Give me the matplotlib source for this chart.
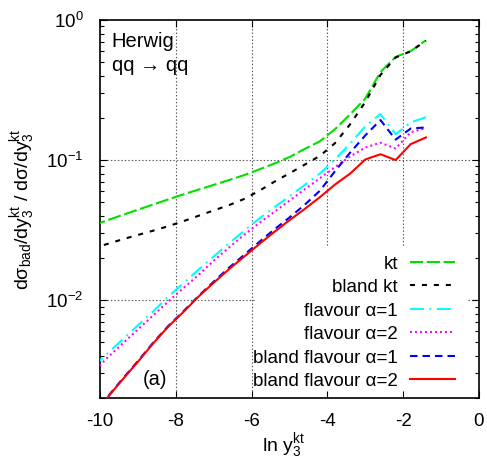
import matplotlib
matplotlib.use("Agg")
import matplotlib.pyplot as plt
from matplotlib.patches import Rectangle
from matplotlib.ticker import LogLocator, FixedLocator

plt.rcParams['font.family'] = ['Liberation Sans', 'DejaVu Sans']
plt.rcParams['mathtext.fontset'] = 'custom'
plt.rcParams['mathtext.rm'] = 'Liberation Sans'
plt.rcParams['mathtext.it'] = 'Liberation Sans'
plt.rcParams['mathtext.default'] = 'regular'
plt.rcParams['axes.unicode_minus'] = False
plt.rcParams['lines.scale_dashes'] = False

# ---- data ----
lny = [-10.2, -9.8, -9.4, -9.0, -8.6, -8.2, -7.8, -7.4, -7.0, -6.6, -6.2, -5.8,
       -5.4, -5.0, -4.6, -4.2, -3.8, -3.4, -3.0, -2.6, -2.2, -1.8, -1.4]

kt = [0.0341, 0.0372, 0.0406, 0.0442, 0.0481, 0.0524, 0.0569, 0.0615, 0.0665,
      0.0719, 0.0780, 0.0857, 0.0944, 0.105, 0.120, 0.136, 0.166, 0.212,
      0.275, 0.425, 0.545, 0.600, 0.716]
bland_kt = [0.0234, 0.0252, 0.0272, 0.0292, 0.0313, 0.0337, 0.0366, 0.0400,
            0.0437, 0.0476, 0.0527, 0.0603, 0.0700, 0.0804, 0.0927, 0.107,
            0.132, 0.180, 0.260, 0.405, 0.540, 0.598, 0.711]
flav1 = [0.00331, 0.00417, 0.00525, 0.00660, 0.00830, 0.0106, 0.0132, 0.0165,
         0.0205, 0.0254, 0.0312, 0.0382, 0.0460, 0.0552, 0.0664, 0.0800,
         0.101, 0.131, 0.174, 0.213, 0.153, 0.186, 0.202]
flav2 = [0.00302, 0.00389, 0.00490, 0.00617, 0.00776, 0.00977, 0.0122, 0.0151,
         0.0191, 0.0237, 0.0292, 0.0355, 0.0427, 0.0513, 0.0617, 0.0741,
         0.0890, 0.106, 0.123, 0.133, 0.121, 0.158, 0.169]
bland_flav1 = [0.00151, 0.00204, 0.00275, 0.00367, 0.00495, 0.00653, 0.00832,
               0.0107, 0.01355, 0.0170, 0.0210, 0.0260, 0.0320, 0.0389, 0.0479,
               0.0603, 0.0832, 0.113, 0.150, 0.193, 0.140, 0.168, 0.171]
bland_flav2 = [0.00150, 0.00202, 0.00272, 0.00363, 0.00490, 0.00646, 0.00822,
               0.0106, 0.0133, 0.0166, 0.0204, 0.0251, 0.0307, 0.0372, 0.0447,
               0.0543, 0.0668, 0.0800, 0.101, 0.110, 0.100, 0.130, 0.145]

labels = ['kt', 'bland kt', 'flavour α=1', 'flavour α=2',
          'bland flavour α=1', 'bland flavour α=2']
xticks = [-10, -8, -6, -4, -2, 0]

# ---- figure ----
fig = plt.figure(figsize=(4.87, 4.61), dpi=100)
ax = fig.add_axes([100/487, 1-398/461, 379/487, 378/461])

series = [kt, bland_kt, flav1, flav2, bland_flav1, bland_flav2]
styles = [
    dict(color='#00e000', dashes=(9.5, 2.6)),
    dict(color='black', dashes=(3.6, 5.0)),
    dict(color='#00ffff', dashes=(10, 4.0, 1.4, 4.0)),
    dict(color='#ff00ff', dashes=(1.4, 2.2)),
    dict(color='#0000ff', dashes=(5.4, 3.6)),
    dict(color='#ff0000', linestyle='-'),
]
handles = []
for s, st, lab in zip(series, styles, labels):
    h, = ax.plot(lny, s, lw=1.5, label=lab, zorder=3, **st)
    handles.append(h)

ax.set_yscale('log')
ax.set_xlim(-10, 0)
ax.set_ylim(0.002, 1)
ax.xaxis.set_major_locator(FixedLocator(xticks))
ax.yaxis.set_major_locator(LogLocator(base=10, numticks=10))
ax.yaxis.set_minor_locator(LogLocator(base=10, subs=range(2, 10), numticks=20))

ax.tick_params(which='both', direction='in', top=True, right=True, labelsize=13.5)
ax.tick_params(which='major', length=5, width=0.8)
ax.tick_params(which='minor', length=3, width=0.8)
ax.tick_params(axis='x', which='major', pad=11)
ax.tick_params(axis='y', which='major', pad=12)
for sp in ax.spines.values():
    sp.set_linewidth(1.2)

# grid: dotted, only interior major lines
for xv in xticks[1:-1]:
    ax.axvline(xv, color='#555555', lw=0.8, ls=(0, (1, 1.5)), zorder=0.5)
for yv in [0.1, 0.01]:
    ax.axhline(yv, color='#555555', lw=0.8, ls=(0, (1, 1.5)), zorder=0.5)

# opaque key area (covers the grid behind the legend)
ax.add_patch(Rectangle((0.41, 0.008), 0.97 - 0.41, 0.392, transform=ax.transAxes,
                       facecolor='white', edgecolor='none', zorder=1))

leg = ax.legend(handles=handles, loc='lower right', bbox_to_anchor=(0.937, 0.021),
                frameon=False, markerfirst=False, fontsize=13.5, handlelength=2.4,
                handletextpad=0.65, labelspacing=0.34, borderpad=0, borderaxespad=0)

ax.text(0.031, 0.929, 'Herwig', transform=ax.transAxes, fontsize=14.5, va='baseline')
ax.text(0.031, 0.866, 'qq → qq', transform=ax.transAxes, fontsize=14.5, va='baseline')
ax.text(0.114, 0.034, '(a)', transform=ax.transAxes, fontsize=14.5, va='baseline')

ax.set_xlabel(r'ln y$_3^{\rm kt}$', fontsize=14, va='center')
ax.xaxis.set_label_coords(0.483, -0.127)
ax.set_ylabel(r'd$\sigma_{\rm bad}$/dy$_3^{\rm kt}$ / d$\sigma$/dy$_3^{\rm kt}$',
              fontsize=14, va='center')
ax.yaxis.set_label_coords(-0.2045, 0.5)

fig.savefig('out.png', dpi=100)
